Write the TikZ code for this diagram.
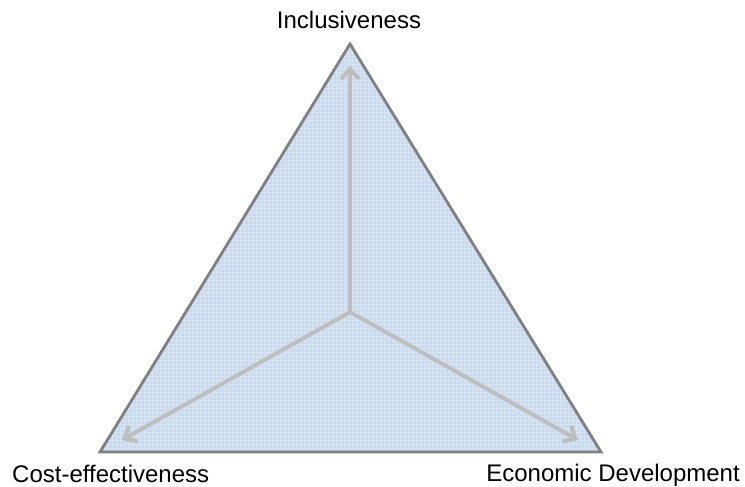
\documentclass[tikz,border=0pt]{standalone}
\usepackage{fontspec}
\setmainfont{Liberation Sans}
\usetikzlibrary{arrows.meta}
\definecolor{trifill}{RGB}{200,218,240}
\definecolor{triedge}{RGB}{128,128,128}
\definecolor{arrowgray}{RGB}{190,190,190}
\tikzset{
  label text/.style={font=\fontsize{24}{28}\selectfont, inner sep=0pt},
  axisarrow/.style={draw=arrowgray, line width=4pt, -{Straight Barb[length=10pt,width=18pt,line width=4pt]}},
}
\begin{document}
\begin{tikzpicture}[x=1pt,y=-1pt]
\useasboundingbox (0,0) rectangle (745,487);
\coordinate (T) at (350,44);
\coordinate (L) at (100,452);
\coordinate (R) at (601,452);
\coordinate (C) at (350,312);
\coordinate (Ta) at (350,66);
\coordinate (La) at (122,440);
\coordinate (Ra) at (578,440);
\fill[trifill] (T) -- (L) -- (R) -- cycle;
\begin{scope}
\clip (T) -- (L) -- (R) -- cycle;
\foreach \i in {0,4,...,745} {\draw[white, opacity=0.25, line width=0.5pt] (\i,0) -- (\i,487);}
\foreach \i in {0,4,...,487} {\draw[white, opacity=0.25, line width=0.5pt] (0,\i) -- (745,\i);}
\end{scope}
\draw[axisarrow] (C) -- (Ta);
\draw[axisarrow] (C) -- (La);
\draw[axisarrow] (C) -- (Ra);
\draw[triedge, line width=2.8pt, line join=miter] (T) -- (L) -- (R) -- cycle;
\node[label text, anchor=base] (inc) at (349,29) {Inclusiveness};
\node[label text, anchor=base west] (cost) at (12,482) {Cost-effectiveness};
\node[label text, anchor=base east] (eco) at (740,481) {Economic Development};
\end{tikzpicture}
\end{document}
